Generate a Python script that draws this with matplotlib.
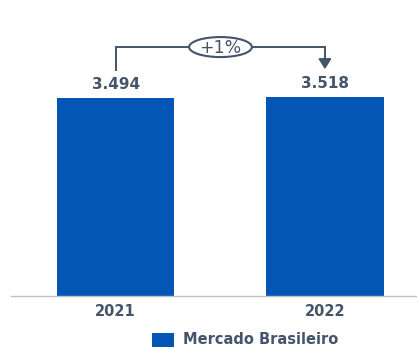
import matplotlib
matplotlib.use("Agg")
import matplotlib.pyplot as plt
from matplotlib.patches import Ellipse

years = ["2021", "2022"]
values = [3.494, 3.518]
value_labels = ["3.494", "3.518"]
growth_label = "+1%"
series_name = "Mercado Brasileiro"

BAR = "#0356B6"
TEXT = "#44546A"

plt.rcParams["font.family"] = ["DejaVu Sans"]

fig = plt.figure(figsize=(4.17, 3.47), dpi=100)
ax = fig.add_axes([11 / 417, (347 - 296) / 347, 1 - 11 / 417, 296 / 347])

x = list(range(len(years)))
bars = ax.bar(x, values, width=0.56, color=BAR, label=series_name, zorder=2)

ax.set_xlim(-0.5, 1.44)
ax.set_ylim(0, 5.22)

for xi, v, lab in zip(x, values, value_labels):
    ax.annotate(lab, (xi, v), xytext=(0, 4), textcoords="offset points",
                ha="center", va="bottom", fontsize=11, fontweight="bold", color=TEXT)

# growth bracket between the two bars
top = 4.39
ax.plot([0, 0, 1, 1], [3.99, top, top, 4.2], color=TEXT, lw=1.4,
        solid_joinstyle="miter", zorder=3)
ax.annotate("", xy=(1, 4.0), xytext=(1, 4.25),
            arrowprops=dict(arrowstyle="-|>,head_length=0.6,head_width=0.38",
                            color=TEXT, lw=1.4, shrinkA=0, shrinkB=0))
ax.add_patch(Ellipse((0.501, top), 0.30, 0.353, facecolor="white",
                     edgecolor=TEXT, lw=1.5, zorder=4))
ax.text(0.501, top - 0.01, growth_label, ha="center", va="center", fontsize=12.5,
        fontweight="medium", color=TEXT, zorder=5)

for s in ["top", "right", "left"]:
    ax.spines[s].set_visible(False)
ax.spines["bottom"].set_color("#BFBFBF")
ax.spines["bottom"].set_linewidth(1.0)
ax.set_yticks([])
ax.set_xticks(x)
ax.set_xticklabels(years, fontsize=10.5, fontweight="bold", color=TEXT)
ax.tick_params(axis="x", length=0, pad=6)

fig.legend(handles=[bars], labels=[series_name], loc="center",
           bbox_to_anchor=(245 / 417, 7 / 347), frameon=False,
           prop=dict(size=10.5, weight="bold"), labelcolor=TEXT,
           handlelength=1.5, handleheight=1.1, handletextpad=0.6,
           borderpad=0, borderaxespad=0)

fig.savefig("out.png", dpi=100)
